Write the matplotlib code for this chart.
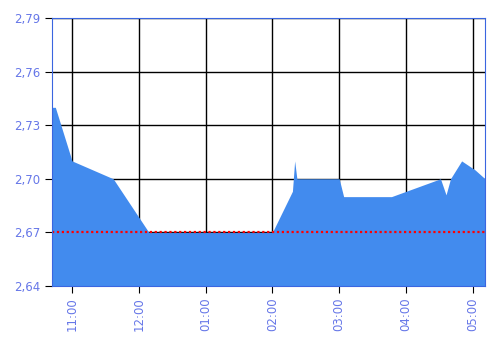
import pandas as pd
import matplotlib
matplotlib.use("Agg")
import matplotlib.pyplot as plt
import matplotlib.dates as mdates
from matplotlib.ticker import FuncFormatter

times = ["10:42", "10:45", "11:00", "11:37", "12:09", "14:00", "14:18",
         "14:20", "14:22", "15:00", "15:04", "15:47", "16:31", "16:36",
         "16:40", "16:50", "17:02", "17:11"]
values = [2.74, 2.74, 2.71, 2.70, 2.67, 2.67, 2.693,
          2.71, 2.70, 2.70, 2.69, 2.69, 2.70, 2.691,
          2.70, 2.71, 2.705, 2.70]
ref_level = 2.67
y_ticks = [2.64, 2.67, 2.70, 2.73, 2.76, 2.79]
hour_ticks = ["11:00", "12:00", "13:00", "14:00", "15:00", "16:00", "17:00"]

t = pd.to_datetime(["2020-01-01 " + s for s in times])
ht = pd.to_datetime(["2020-01-01 " + s for s in hour_ticks])

blue = "#3a66e0"
fill = "#428bee"
label_col = "#6677e8"

fig = plt.figure(figsize=(5, 3.4), dpi=100)
ax = fig.add_axes([0.104, 0.159, 0.866, 0.788])

ax.fill_between(t, values, y_ticks[0], color=fill, lw=0, zorder=2)
# dotted red reference line
ax.axhline(ref_level, color="red", ls=(0, (1, 1.2)), lw=1.6, zorder=3)

ax.set_xlim(t[0], t[-1])
ax.set_ylim(y_ticks[0], y_ticks[-1])
ax.set_yticks(y_ticks)
ax.set_xticks(ht)
ax.xaxis.set_major_formatter(mdates.DateFormatter("%I:%M"))
ax.yaxis.set_major_formatter(FuncFormatter(lambda v, p: f"{v:.2f}".replace(".", ",")))

ax.grid(True, color="black", lw=1, zorder=1)
ax.set_axisbelow(True)
for s in ax.spines.values():
    s.set_color(blue)
    s.set_zorder(4)
ax.tick_params(axis="both", colors="black", labelcolor=label_col, labelsize=8.5, length=5)
plt.setp(ax.get_xticklabels(), rotation=90)

fig.savefig("out.png", dpi=100)
